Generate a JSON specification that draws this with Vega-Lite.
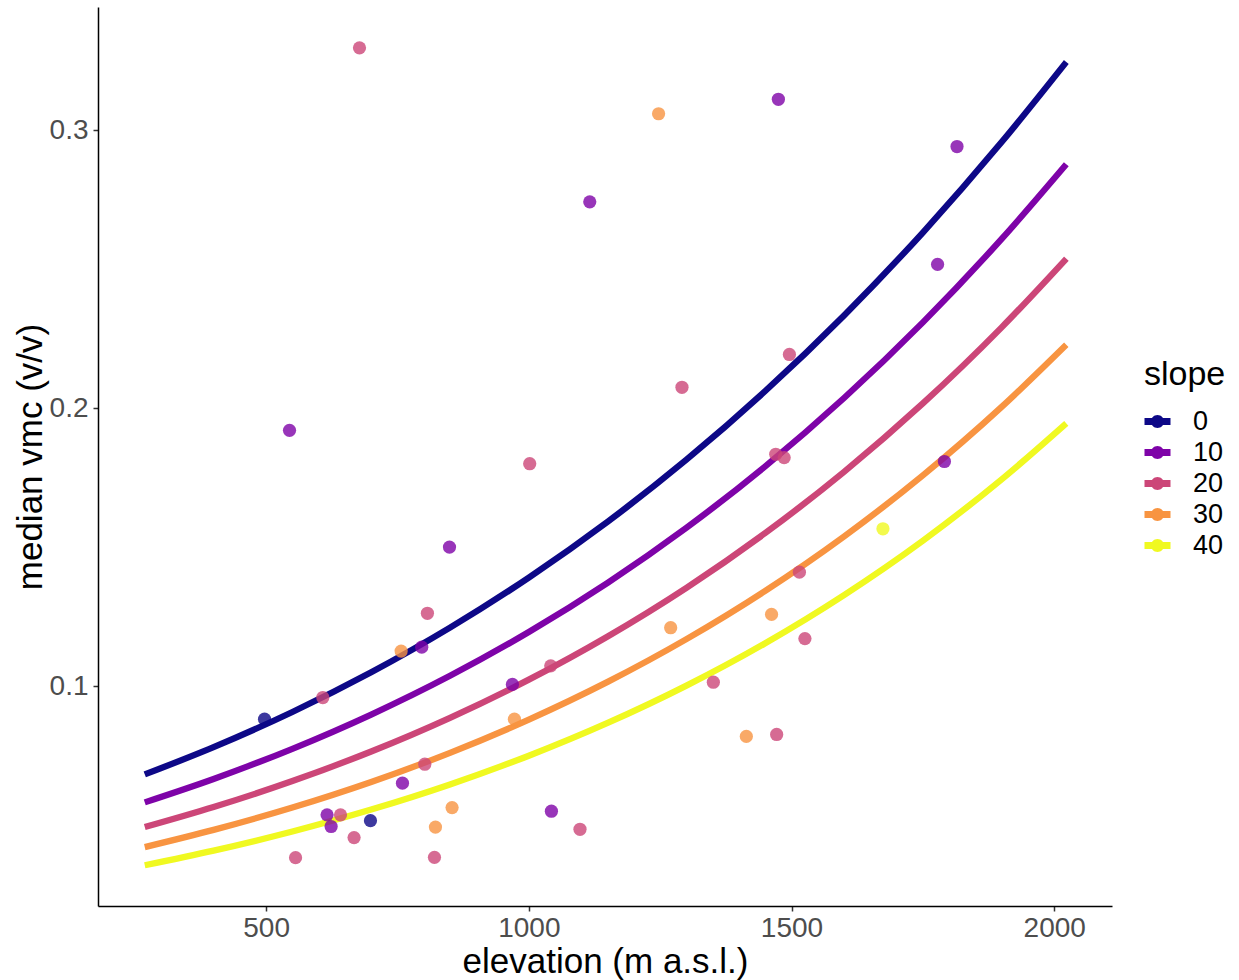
{
  "$schema": "https://vega.github.io/schema/vega-lite/v6.json",
  "autosize": {"type": "none"},
  "padding": {"left": 98, "top": 7, "right": 127, "bottom": 74},
  "width": 1014,
  "height": 899,
  "background": "white",
  "config": {
    "view": {"stroke": null},
    "font": "Liberation Sans"
  },
  "datasets": {
    "lines": [
      {"elevation": 269, "vmc": 0.06833, "slope": 0}, {"elevation": 400, "vmc": 0.07815, "slope": 0}, {"elevation": 550, "vmc": 0.09079, "slope": 0}, {"elevation": 700, "vmc": 0.10507, "slope": 0}, {"elevation": 850, "vmc": 0.12113, "slope": 0}, {"elevation": 1000, "vmc": 0.13914, "slope": 0}, {"elevation": 1150, "vmc": 0.15923, "slope": 0}, {"elevation": 1300, "vmc": 0.18156, "slope": 0}, {"elevation": 1450, "vmc": 0.20625, "slope": 0}, {"elevation": 1600, "vmc": 0.23345, "slope": 0}, {"elevation": 1750, "vmc": 0.26327, "slope": 0}, {"elevation": 1900, "vmc": 0.29581, "slope": 0}, {"elevation": 2023, "vmc": 0.32459, "slope": 0},
      {"elevation": 269, "vmc": 0.05828, "slope": 10}, {"elevation": 400, "vmc": 0.06669, "slope": 10}, {"elevation": 550, "vmc": 0.07755, "slope": 10}, {"elevation": 700, "vmc": 0.08988, "slope": 10}, {"elevation": 850, "vmc": 0.10383, "slope": 10}, {"elevation": 1000, "vmc": 0.11957, "slope": 10}, {"elevation": 1150, "vmc": 0.13726, "slope": 10}, {"elevation": 1300, "vmc": 0.15707, "slope": 10}, {"elevation": 1450, "vmc": 0.17917, "slope": 10}, {"elevation": 1600, "vmc": 0.20374, "slope": 10}, {"elevation": 1750, "vmc": 0.23094, "slope": 10}, {"elevation": 1900, "vmc": 0.26098, "slope": 10}, {"elevation": 2023, "vmc": 0.28783, "slope": 10},
      {"elevation": 269, "vmc": 0.04939, "slope": 20}, {"elevation": 400, "vmc": 0.0566, "slope": 20}, {"elevation": 550, "vmc": 0.06594, "slope": 20}, {"elevation": 700, "vmc": 0.07658, "slope": 20}, {"elevation": 850, "vmc": 0.0887, "slope": 20}, {"elevation": 1000, "vmc": 0.10244, "slope": 20}, {"elevation": 1150, "vmc": 0.11798, "slope": 20}, {"elevation": 1300, "vmc": 0.13548, "slope": 20}, {"elevation": 1450, "vmc": 0.15516, "slope": 20}, {"elevation": 1600, "vmc": 0.17718, "slope": 20}, {"elevation": 1750, "vmc": 0.20179, "slope": 20}, {"elevation": 1900, "vmc": 0.22916, "slope": 20}, {"elevation": 2023, "vmc": 0.25385, "slope": 20},
      {"elevation": 269, "vmc": 0.04219, "slope": 30}, {"elevation": 400, "vmc": 0.04837, "slope": 30}, {"elevation": 550, "vmc": 0.05641, "slope": 30}, {"elevation": 700, "vmc": 0.06561, "slope": 30}, {"elevation": 850, "vmc": 0.0761, "slope": 30}, {"elevation": 1000, "vmc": 0.08805, "slope": 30}, {"elevation": 1150, "vmc": 0.10162, "slope": 30}, {"elevation": 1300, "vmc": 0.117, "slope": 30}, {"elevation": 1450, "vmc": 0.13436, "slope": 30}, {"elevation": 1600, "vmc": 0.15393, "slope": 30}, {"elevation": 1750, "vmc": 0.17592, "slope": 30}, {"elevation": 1900, "vmc": 0.20055, "slope": 30}, {"elevation": 2023, "vmc": 0.2229, "slope": 30},
      {"elevation": 269, "vmc": 0.03565, "slope": 40}, {"elevation": 400, "vmc": 0.04092, "slope": 40}, {"elevation": 550, "vmc": 0.04779, "slope": 40}, {"elevation": 700, "vmc": 0.05568, "slope": 40}, {"elevation": 850, "vmc": 0.06472, "slope": 40}, {"elevation": 1000, "vmc": 0.07506, "slope": 40}, {"elevation": 1150, "vmc": 0.08686, "slope": 40}, {"elevation": 1300, "vmc": 0.10029, "slope": 40}, {"elevation": 1450, "vmc": 0.11555, "slope": 40}, {"elevation": 1600, "vmc": 0.13286, "slope": 40}, {"elevation": 1750, "vmc": 0.15242, "slope": 40}, {"elevation": 1900, "vmc": 0.17449, "slope": 40}, {"elevation": 2023, "vmc": 0.19465, "slope": 40}
    ],
    "pts": [
      {"elevation": 677.7, "vmc": 0.3297, "slope": 20}, {"elevation": 1247, "vmc": 0.306, "slope": 30}, {"elevation": 1116, "vmc": 0.2743, "slope": 10}, {"elevation": 1475, "vmc": 0.3112, "slope": 10}, {"elevation": 1815, "vmc": 0.2942, "slope": 10}, {"elevation": 1778, "vmc": 0.2518, "slope": 10}, {"elevation": 544.5, "vmc": 0.1921, "slope": 10}, {"elevation": 1291.5, "vmc": 0.2076, "slope": 20}, {"elevation": 1001.7, "vmc": 0.1801, "slope": 20}, {"elevation": 849, "vmc": 0.1501, "slope": 10}, {"elevation": 1496, "vmc": 0.2194, "slope": 20}, {"elevation": 1470, "vmc": 0.1835, "slope": 20}, {"elevation": 1486, "vmc": 0.1823, "slope": 20}, {"elevation": 1791, "vmc": 0.1809, "slope": 10}, {"elevation": 1674, "vmc": 0.1567, "slope": 40}, {"elevation": 1515, "vmc": 0.1411, "slope": 20}, {"elevation": 757, "vmc": 0.1127, "slope": 30}, {"elevation": 607.9, "vmc": 0.096, "slope": 20}, {"elevation": 497, "vmc": 0.0882, "slope": 0}, {"elevation": 616, "vmc": 0.0538, "slope": 10}, {"elevation": 641.6, "vmc": 0.0538, "slope": 20}, {"elevation": 623.7, "vmc": 0.0496, "slope": 10}, {"elevation": 698.6, "vmc": 0.0517, "slope": 0}, {"elevation": 667.4, "vmc": 0.0456, "slope": 20}, {"elevation": 556, "vmc": 0.0384, "slope": 20}, {"elevation": 759.5, "vmc": 0.0652, "slope": 10}, {"elevation": 807, "vmc": 0.1263, "slope": 20}, {"elevation": 796.2, "vmc": 0.1141, "slope": 10}, {"elevation": 968.8, "vmc": 0.1007, "slope": 10}, {"elevation": 1041.7, "vmc": 0.1074, "slope": 20}, {"elevation": 1270, "vmc": 0.1211, "slope": 30}, {"elevation": 972.6, "vmc": 0.0882, "slope": 30}, {"elevation": 802, "vmc": 0.072, "slope": 20}, {"elevation": 853.9, "vmc": 0.0564, "slope": 30}, {"elevation": 822.3, "vmc": 0.0494, "slope": 30}, {"elevation": 820.4, "vmc": 0.0385, "slope": 20}, {"elevation": 1043, "vmc": 0.0551, "slope": 10}, {"elevation": 1097.4, "vmc": 0.0486, "slope": 20}, {"elevation": 1462, "vmc": 0.1259, "slope": 30}, {"elevation": 1525.5, "vmc": 0.1172, "slope": 20}, {"elevation": 1351.2, "vmc": 0.1015, "slope": 20}, {"elevation": 1414, "vmc": 0.082, "slope": 30}, {"elevation": 1471.7, "vmc": 0.0827, "slope": 20}
    ]
  },
  "encoding": {
    "x": {
      "field": "elevation", "type": "quantitative",
      "scale": {"domain": [180, 2110], "nice": false, "zero": false},
      "axis": {
        "values": [500, 1000, 1500, 2000], "format": "d", "grid": false,
        "title": "elevation (m a.s.l.)",
        "domainColor": "black", "domainWidth": 1.5,
        "tickColor": "#333333", "tickWidth": 1.5, "tickSize": 5,
        "labelFontSize": 28, "labelColor": "#4D4D4D", "labelPadding": 3,
        "titleFontSize": 35, "titleFontWeight": "normal", "titleColor": "black",
        "titleX": 507, "titleY": 66, "titleBaseline": "alphabetic", "titleAlign": "center"
      }
    },
    "y": {
      "field": "vmc", "type": "quantitative",
      "scale": {"domain": [0.021, 0.3444], "nice": false, "zero": false},
      "axis": {
        "values": [0.1, 0.2, 0.3], "format": ".1f", "grid": false,
        "title": "median vmc (v/v)",
        "domainColor": "black", "domainWidth": 1.5,
        "tickColor": "#333333", "tickWidth": 1.5, "tickSize": 5,
        "labelFontSize": 28, "labelColor": "#4D4D4D", "labelPadding": 5,
        "titleFontSize": 35, "titleFontWeight": "normal", "titleColor": "black",
        "titleAngle": -90, "titleX": -57, "titleY": 449.5, "titleBaseline": "alphabetic", "titleAlign": "center"
      }
    }
  },
  "resolve": {"legend": {"color": "independent"}},
  "layer": [
    {
      "data": {"name": "lines"},
      "mark": {"type": "line", "strokeWidth": 6.3, "interpolate": "monotone", "strokeCap": "butt"},
      "encoding": {
        "color": {
          "field": "slope", "type": "ordinal",
          "scale": {"domain": [0, 10, 20, 30, 40], "range": ["#0D0887", "#7E03A8", "#CC4678", "#F89441", "#F0F921"]},
          "legend": null
        }
      }
    },
    {
      "data": {"name": "pts"},
      "mark": {"type": "point", "filled": true, "size": 175, "opacity": 0.8, "strokeWidth": 0},
      "encoding": {
        "color": {
          "field": "slope", "type": "ordinal",
          "scale": {"domain": [0, 10, 20, 30, 40], "range": ["#0D0887", "#7E03A8", "#CC4678", "#F89441", "#F0F921"]},
          "legend": {
            "orient": "none", "legendX": 1046, "legendY": 351, "padding": 0,
            "title": "slope", "titleFontSize": 34, "titleFontWeight": "normal", "titleColor": "black", "titlePadding": 16,
            "labelFontSize": 27, "labelColor": "black", "labelOffset": 22,
            "symbolType": "M-1,-0.27L1,-0.27L1,0.27L-1,0.27Z M0.5,0A0.5,0.5,0,1,1,-0.5,0A0.5,0.5,0,1,1,0.5,0Z",
            "symbolSize": 676, "symbolStrokeWidth": 0, "symbolOpacity": 1, "rowPadding": 3
          }
        }
      }
    }
  ]
}
